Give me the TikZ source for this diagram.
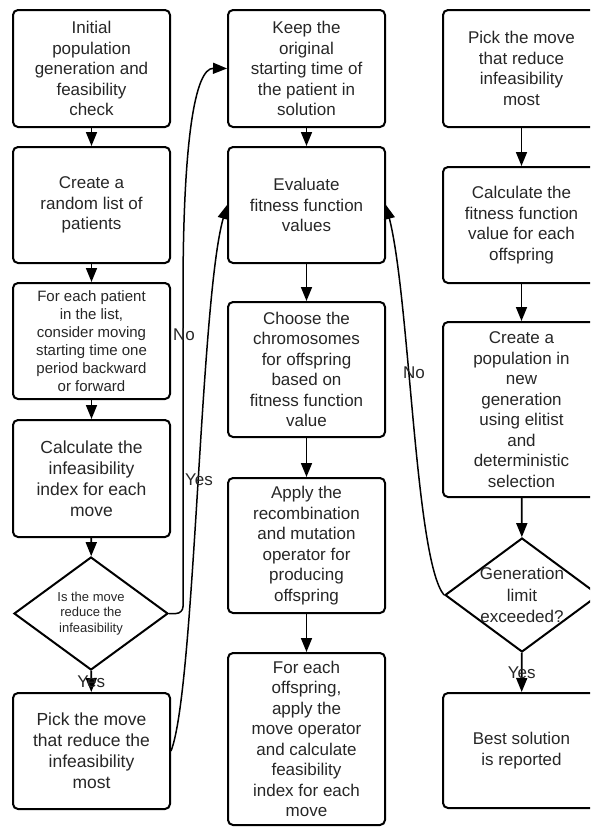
\documentclass[tikz,border=0pt]{standalone}
\usepackage{fontspec}
\setmainfont{Liberation Sans}
\usetikzlibrary{arrows.meta, shapes.geometric}

\begin{document}
\begin{tikzpicture}[x=1pt, y=-1pt, >={Triangle[length=14pt, width=11pt]},
  every node/.style={font=\fontsize{17}{20.5}\selectfont, text=black!85},
  stepbox/.style={draw=black, line width=2pt, rounded corners=5pt, minimum width=157pt, align=center, inner sep=0pt},
  decision/.style={draw=black, diamond, line width=2pt, minimum width=154pt, minimum height=113pt, inner sep=0pt},
  decisiontext/.style={align=center, inner sep=0pt},
  arr/.style={->, line width=1.7pt},
  lbl/.style={inner sep=1pt}]
  \useasboundingbox (0,0) rectangle (590,828);
  \clip (0,0) rectangle (590,828);
  \node[stepbox, minimum height=117pt] (init) at (91.5,68.5) {Initial\\population\\generation and\\feasibility\\check};
  \node[stepbox, minimum height=116pt] (randlist) at (91.5,205) {Create a\\random list of\\patients};
  \node[stepbox, minimum height=116pt, font=\fontsize{15}{18}\selectfont] (consider) at (91.5,341) {For each patient\\in the list,\\consider moving\\starting time one\\period backward\\or forward};
  \node[stepbox, minimum height=117pt, font=\fontsize{17.5}{21}\selectfont] (infidx) at (91.5,478.5) {Calculate the\\infeasibility\\index for each\\move};
  \node[decision] (reduce) at (91,613.5) {};
  \node[decisiontext, font=\fontsize{13}{15.5}\selectfont] (reducetext) at (reduce) {Is the move\\reduce the\\infeasibility};
  \node[stepbox, minimum height=116pt, font=\fontsize{17.5}{21}\selectfont] (pickmove) at (91.5,751) {Pick the move\\that reduce the\\infeasibility\\most};
  \node[stepbox, minimum height=117pt] (keep) at (306.5,68.5) {Keep the\\original\\starting time of\\the patient in\\solution};
  \node[stepbox, minimum height=116pt] (evalfit) at (306.5,205) {Evaluate\\fitness function\\values};
  \node[stepbox, minimum height=135pt] (choose) at (306.5,369.5) {Choose the\\chromosomes\\for offspring\\based on\\fitness function\\value};
  \node[stepbox, minimum height=135pt] (apply) at (306.5,545.5) {Apply the\\recombination\\and mutation\\operator for\\producing\\offspring};
  \node[stepbox, minimum height=172pt] (moveop) at (306.5,739) {For each\\offspring,\\apply the\\move operator\\and calculate\\feasibility\\index for each\\move};
  \node[stepbox, minimum height=117pt] (pickmost) at (521.5,68.5) {Pick the move\\that reduce\\infeasibility\\most};
  \node[stepbox, minimum height=116pt] (calcfit) at (521.5,225) {Calculate the\\fitness function\\value for each\\offspring};
  \node[stepbox, minimum height=175pt] (newpop) at (521.5,409.5) {Create a\\population in\\new\\generation\\using elitist\\and\\deterministic\\selection};
  \node[decision, minimum height=114pt] (genlimit) at (522,595) {};
  \node[decisiontext, font=\fontsize{17}{21.5}\selectfont] (genlimittext) at (genlimit) {Generation\\limit\\exceeded?};
  \node[stepbox, minimum height=115pt] (best) at (521.5,750.5) {Best solution\\is reported};
  \draw[arr] (init) -- (randlist);
  \draw[arr] (randlist) -- (consider);
  \draw[arr] (consider) -- (infidx);
  \draw[arr] (infidx) -- (reduce);
  \draw[arr] (reduce) -- node[lbl] (yesa) {Yes} (pickmove);
  \draw[arr] (keep) -- (evalfit);
  \draw[arr] (evalfit) -- (choose);
  \draw[arr] (choose) -- (apply);
  \draw[arr] (apply) -- (moveop);
  \draw[arr] (pickmost) -- (calcfit);
  \draw[arr] (calcfit) -- (newpop);
  \draw[arr] (newpop) -- (genlimit);
  \draw[arr] (genlimit) -- node[lbl] (yesb) {Yes} (best);
  \draw[arr, line width=1.5pt, rounded corners=7pt] (reduce.east) -| (183,300) .. controls (183,140) and (195,68) .. (keep.west);
  \draw[arr, line width=1.5pt] (pickmove.east) .. controls (195,690) and (200,300) .. (evalfit.west);
  \draw[arr, line width=1.5pt] (genlimit.west) .. controls (415,560) and (410,300) .. (evalfit.east);
  \node[lbl] (noa) at (184,335) {No};
  \node[lbl] (yesc) at (199,480) {Yes};
  \node[lbl] (nob) at (414,373) {No};
\end{tikzpicture}
\end{document}
